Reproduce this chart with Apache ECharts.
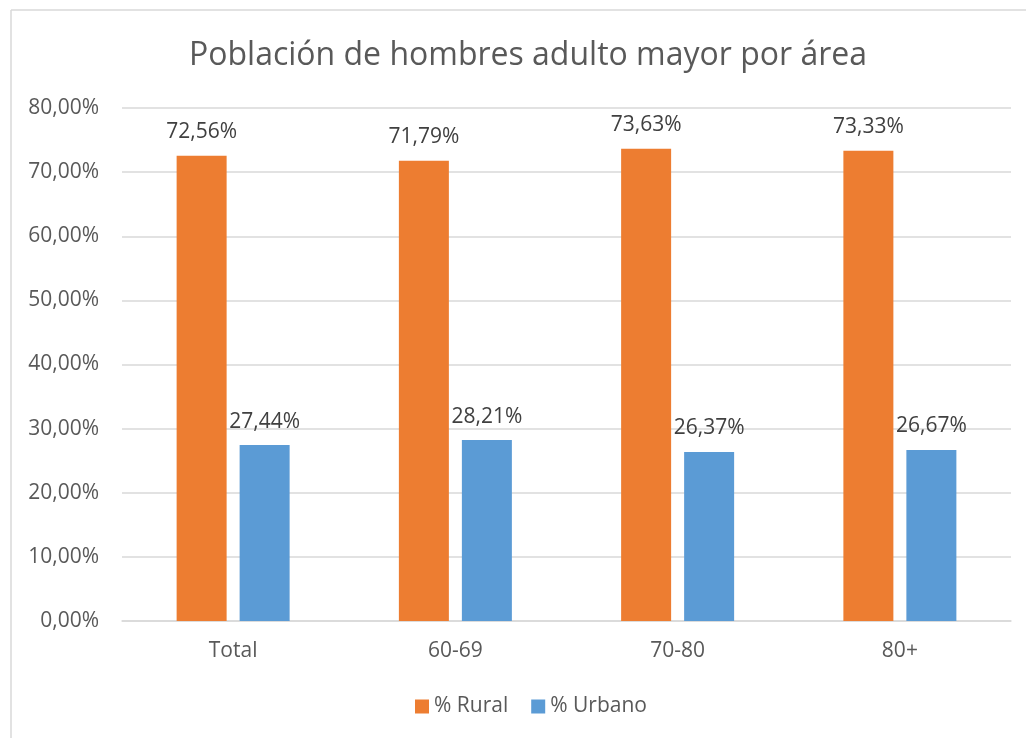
<!DOCTYPE html>
<html>
<head>
<meta charset="utf-8">
<script src="https://cdn.jsdelivr.net/npm/echarts@6/dist/echarts.min.js"></script>
<style>
html,body{margin:0;padding:0;background:#fff;}
#chart{width:1026px;height:738px;}
</style>
</head>
<body>
<div id="chart"></div>
<script>
const titleText = 'Población de hombres adulto mayor por área';
const categories = ['Total', '60-69', '70-80', '80+'];
const seriesNames = ['% Rural', '% Urbano'];
const rural = [72.56, 71.79, 73.63, 73.33];
const urbano = [27.44, 28.21, 26.37, 26.67];
const yMin = 0, yMax = 80, yStep = 10;

const fmt = v => v.toFixed(2).replace('.', ',') + '%';
const FONT = '"Open Sans", sans-serif';

const chart = echarts.init(document.getElementById('chart'), null, {renderer: 'canvas'});
chart.setOption({
  backgroundColor: '#fff',
  animation: false,
  title: {
    text: titleText,
    left: 184,
    top: 35,
    textStyle: {fontFamily: FONT, fontSize: 32, fontWeight: 'normal', color: '#595959'}
  },
  legend: {
    data: seriesNames,
    bottom: 16,
    left: 410,
    itemWidth: 14,
    itemHeight: 14,
    itemGap: 23,
    icon: 'rect',
    textStyle: {fontFamily: FONT, fontSize: 21, color: '#595959'}
  },
  grid: {left: 122, right: 15, top: 108, bottom: 117, containLabel: false},
  xAxis: {
    type: 'category',
    data: categories,
    axisLine: {lineStyle: {color: '#D9D9D9', width: 1.5}},
    axisTick: {show: false},
    axisLabel: {fontFamily: FONT, fontSize: 21, color: '#595959', margin: 20}
  },
  yAxis: {
    type: 'value',
    min: yMin, max: yMax, interval: yStep,
    axisLine: {show: false},
    axisTick: {show: false},
    splitLine: {lineStyle: {color: '#D9D9D9', width: 1.5}},
    axisLabel: {fontFamily: FONT, fontSize: 21, color: '#595959', margin: 23,
      formatter: v => fmt(v)}
  },
  series: [
    {name: seriesNames[0], type: 'bar', data: rural, barWidth: 50, barGap: '26%',
     itemStyle: {color: '#ED7D31'},
     label: {show: true, position: 'top', distance: 13, fontFamily: FONT, fontSize: 21, color: '#404040',
       formatter: p => fmt(p.value)}},
    {name: seriesNames[1], type: 'bar', data: urbano, barWidth: 50,
     itemStyle: {color: '#5B9BD5'},
     label: {show: true, position: 'top', distance: 13, fontFamily: FONT, fontSize: 21, color: '#404040',
       formatter: p => fmt(p.value)}}
  ],
  graphic: [
    {type: 'line', shape: {x1: 11, y1: 10, x2: 1026, y2: 10}, style: {stroke: '#D9D9D9', lineWidth: 1.5}, silent: true},
    {type: 'line', shape: {x1: 11, y1: 10, x2: 11, y2: 738}, style: {stroke: '#D9D9D9', lineWidth: 1.5}, silent: true}
  ]
});
</script>
</body>
</html>
